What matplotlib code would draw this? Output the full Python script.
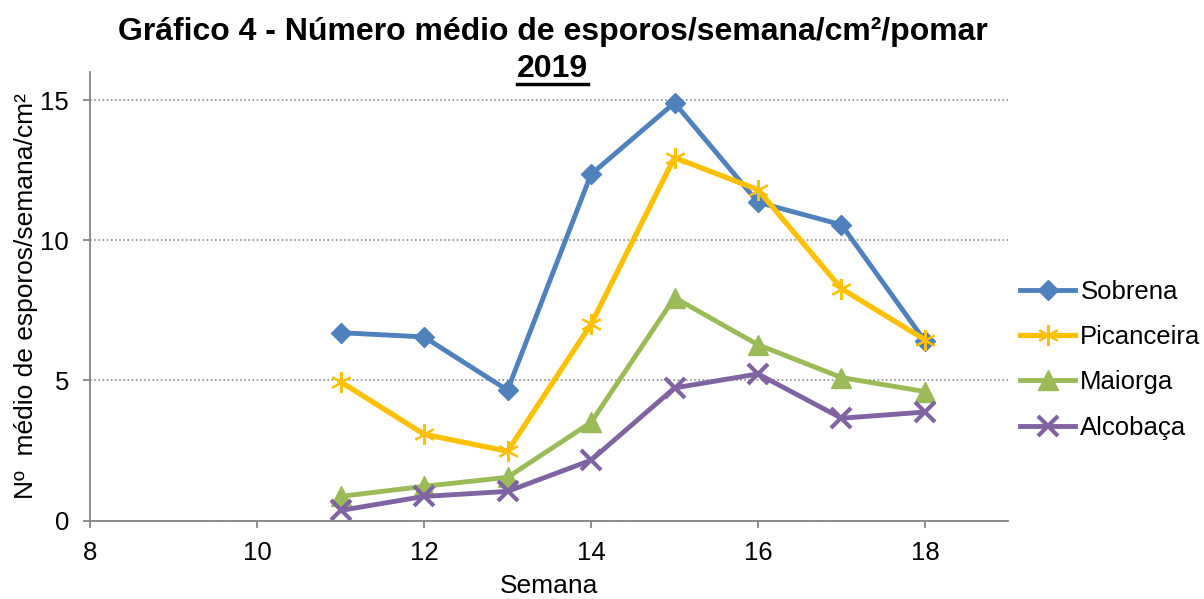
import matplotlib.pyplot as plt
from matplotlib.lines import Line2D

plt.rcParams['font.family'] = ['Liberation Sans', 'DejaVu Sans']

semanas = [11, 12, 13, 14, 15, 16, 17, 18]
sobrena = [6.70, 6.55, 4.65, 12.35, 14.90, 11.35, 10.55, 6.40]
picanceira = [4.95, 3.08, 2.47, 7.00, 12.95, 11.80, 8.27, 6.45]
maiorga = [0.86, 1.22, 1.54, 3.50, 7.95, 6.27, 5.10, 4.60]
alcobaca = [0.36, 0.86, 1.04, 2.15, 4.73, 5.23, 3.65, 3.87]

x_ticks = [8, 10, 12, 14, 16, 18]
y_ticks = [0, 5, 10, 15]

fig = plt.figure(figsize=(12.04, 5.99), dpi=100)
ax = fig.add_axes([0.0748, 0.131, 0.7628, 0.7488])

ax.plot(semanas, sobrena, color='#4F81BD', lw=3.5, marker='D', ms=10.5, label='Sobrena')
ax.plot(semanas, picanceira, color='#FFC000', lw=3.8, marker=(6, 2, 0), ms=15, mew=1.5,
        label='Picanceira')
ax.plot(semanas, maiorga, color='#9BBB59', lw=3.5, marker='^', ms=14, label='Maiorga')
ax.plot(semanas, alcobaca, color='#8064A2', lw=3.5, marker='x', ms=14, mew=3, label='Alcobaça')

ax.set_xlim(8, 19)
ax.set_ylim(0, 16)
ax.set_xticks(x_ticks)
ax.set_yticks(y_ticks)
ax.yaxis.grid(True, color='#8C8C8C', linestyle=(0, (1, 1.5)), lw=1.2)
ax.set_axisbelow(True)

for s in ['top', 'right']:
    ax.spines[s].set_visible(False)
for s in ['left', 'bottom']:
    ax.spines[s].set_color('#868686')
    ax.spines[s].set_linewidth(1.3)
ax.tick_params(axis='both', colors='#868686', length=5, width=1.3, labelsize=18.5,
               labelcolor='black', direction='out')
ax.tick_params(axis='x', pad=10)
ax.tick_params(axis='y', pad=10)

ax.set_xlabel('Semana', fontsize=19, labelpad=6)
ax.set_ylabel('Nº  médio de esporos/semana/cm²', fontsize=19, labelpad=2)

fig.text(0.459, 0.947, 'Gráfico 4 - Número médio de esporos/semana/cm²/pomar',
         ha='center', va='center', fontsize=23, fontweight='bold')
t2 = fig.text(0.459, 0.884, '2019', ha='center', va='center', fontsize=23, fontweight='bold')

leg = ax.legend(loc='center left', bbox_to_anchor=(1.0125, 0.358), frameon=False, fontsize=18.5,
                handlelength=2.15, labelspacing=0.82, handletextpad=0.2, borderaxespad=0,
                borderpad=0)

# underline the year
fig.canvas.draw()
bb = t2.get_window_extent().transformed(fig.transFigure.inverted())
fig.add_artist(Line2D([bb.x0, bb.x1], [bb.y0 + 0.001, bb.y0 + 0.001], color='black', lw=2.5,
                      transform=fig.transFigure))

fig.savefig('out.png', dpi=100)
